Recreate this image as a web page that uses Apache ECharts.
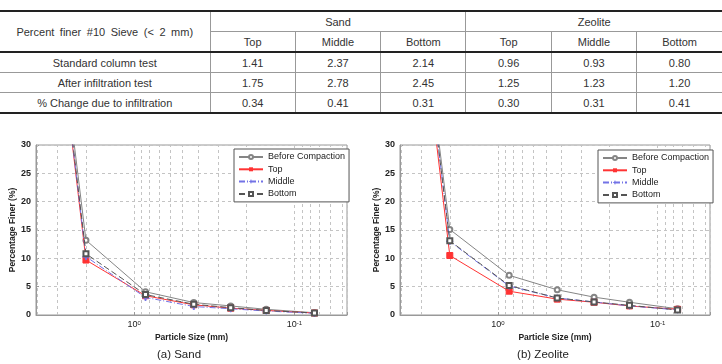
<!DOCTYPE html>
<html>
<head>
<meta charset="utf-8">
<script src="https://cdn.jsdelivr.net/npm/echarts@6/dist/echarts.min.js"></script>
<style>
body { margin: 0; background: #fff; }
#main { position: absolute; left: 0; top: 0; width: 722px; height: 364px; }
#tbl { position: absolute; left: 0; top: 10px; width: 722px; border-collapse: collapse; table-layout: fixed;
  font-family: "Liberation Sans", Arial, sans-serif; font-size: 11px; color: #333; background: #fff; }
#tbl td { height: 19px; padding: 0; text-align: center; border: 1px solid #999; white-space: nowrap; }
#tbl tr:first-child td { border-top: 2px solid #222; }
#tbl tr.last td { border-bottom: 2px solid #222; }
#tbl tr.head2 td { border-bottom: 2px solid #222; }
#tbl td.c0 { border-left: none; border-bottom: 2px solid #222; word-spacing: 2.5px; }
#tbl td.lastc { border-right: none; }
#tbl td.first { border-left: none; }
</style>
</head>
<body>
<div id="main"></div>
<table id="tbl"></table>
<script>
// table values (Sand Top/Middle/Bottom, Zeolite Top/Middle/Bottom)
var headerTitle = 'Percent finer #10 Sieve (< 2 mm)';
var groups = ['Sand', 'Zeolite'];
var positions = ['Top', 'Middle', 'Bottom'];
var rowNames = ['Standard column test', 'After infiltration test', '% Change due to infiltration'];
var standardTest = [1.41, 2.37, 2.14, 0.96, 0.93, 0.80];
var afterTest = [1.75, 2.78, 2.45, 1.25, 1.23, 1.20];
var changeTest = [0.34, 0.41, 0.31, 0.30, 0.31, 0.41];

// chart values
var sizes = [4.75, 2, 0.85, 0.425, 0.25, 0.15, 0.075];
var sandBefore = [100, 13.2, 4.1, 2.2, 1.6, 1.0, 0.4];
var sandTop = [100, 9.7, 3.4, 1.8, 1.2, 0.8, 0.35];
var sandMiddle = [100, 10.3, 3.1, 1.5, 1.1, 0.7, 0.3];
var sandBottom = [100, 10.8, 3.6, 1.9, 1.3, 0.8, 0.35];
var zeoBefore = [100, 15.1, 7.0, 4.45, 3.15, 2.25, 1.1];
var zeoTop = [100, 10.5, 4.2, 2.8, 2.25, 1.6, 1.0];
var zeoMiddle = [100, 13.0, 5.1, 3.0, 2.3, 1.6, 0.9];
var zeoBottom = [100, 13.1, 5.2, 3.0, 2.3, 1.7, 0.9];

var names = ['Before Compaction', 'Top', 'Middle', 'Bottom'];
var captions = ['(a) Sand', '(b) Zeolite'];

// build table
var tbl = document.getElementById('tbl');
var html = '<colgroup><col style="width:210px">';
for (var i = 0; i < 6; i++) html += '<col>';
html += '</colgroup>';
html += '<tr><td class="c0" rowspan="2">' + headerTitle.replace('<', '&lt;') + '</td>';
html += '<td colspan="3">' + groups[0] + '</td><td colspan="3" class="lastc">' + groups[1] + '</td></tr>';
html += '<tr class="head2">';
for (var g = 0; g < 2; g++) {
  positions.forEach(function (p, k) {
    html += '<td' + (g == 1 && k == 2 ? ' class="lastc"' : '') + '>' + p + '</td>';
  });
}
html += '</tr>';
[standardTest, afterTest, changeTest].forEach(function (row, r) {
  html += '<tr' + (r == 2 ? ' class="last"' : '') + '><td class="first">' + rowNames[r] + '</td>';
  row.forEach(function (v, k) {
    html += '<td' + (k == 5 ? ' class="lastc"' : '') + '>' + v.toFixed(2) + '</td>';
  });
  html += '</tr>';
});
tbl.innerHTML = html;

// log grid minor lines 2..9 x 10^k
var minorTicks = [];
[-2, -1, 0].forEach(function (k) {
  for (var m = 2; m <= 9; m++) {
    var v = m * Math.pow(10, k);
    if (v > 0.047 && v < 4.1) minorTicks.push(v);
  }
});

var font = '"Liberation Sans", Arial, sans-serif';
var styles = [
  { color: '#858585', symbol: 'emptyCircle', symbolSize: 5, type: 'solid' },
  { color: '#ff3333', symbol: 'rect', symbolSize: 6, type: 'solid' },
  { color: '#7373e6', symbol: 'path://M4,0H6V4H10V6H6V10H4V6H0V4H4Z', symbolSize: 6, type: [6, 2, 1, 2] },
  { color: '#555555', symbol: 'emptyRect', symbolSize: 5, type: [6, 3] }
];

function makeSeries(idx, values, g) {
  var st = styles[idx];
  var s = {
    name: names[idx],
    type: 'line',
    xAxisIndex: g,
    yAxisIndex: g,
    data: sizes.map(function (x, i) { return [x, values[i]]; }),
    symbol: st.symbol,
    symbolSize: st.symbolSize,
    clip: true,
    z: 3 + idx,
    itemStyle: { color: st.color, borderColor: st.color },
    lineStyle: { color: st.color, width: 1, type: st.type }
  };
  if (idx == 0) {
    s.markLine = {
      silent: true, symbol: 'none', z: 1, animation: false,
      label: { show: false },
      lineStyle: { color: '#c4c4c4', width: 1, type: [3, 3] },
      data: minorTicks.map(function (v) { return { xAxis: v }; })
    };
  }
  return s;
}

function xAxis(g) {
  return {
    type: 'log', logBase: 10, gridIndex: g, min: 0.047, max: 4.1, inverse: true,
    name: 'Particle Size (mm)', nameLocation: 'middle', nameGap: 18,
    nameTextStyle: { fontFamily: font, fontWeight: 'bold', fontSize: 8.5, color: '#222' },
    axisLine: { lineStyle: { color: '#999' } },
    axisTick: { inside: true, length: 3, lineStyle: { color: '#999' } },
    splitLine: { show: true, lineStyle: { color: '#c4c4c4', type: [3, 3] } },
    axisLabel: {
      margin: 5, fontFamily: font, color: '#222',
      formatter: function (v) {
        var e = Math.log10(v);
        if (Math.abs(e - Math.round(e)) > 1e-6) return '';
        return '{b|10}{e|' + Math.round(e) + '}';
      },
      rich: { b: { fontSize: 9, fontFamily: font, color: '#222' }, e: { fontSize: 6, fontFamily: font, color: '#222', verticalAlign: 'top' } }
    }
  };
}

function yAxis(g) {
  return {
    type: 'value', gridIndex: g, min: 0, max: 30, interval: 5,
    name: 'Percentage Finer (%)', nameLocation: 'middle', nameGap: 15,
    nameTextStyle: { fontFamily: font, fontWeight: 'bold', fontSize: 8.5, color: '#222' },
    axisLine: { show: true, lineStyle: { color: '#999' } },
    axisTick: { show: true, inside: true, length: 3, lineStyle: { color: '#999' } },
    splitLine: { show: true, lineStyle: { color: '#c4c4c4', type: [3, 3] } },
    axisLabel: { margin: 5, fontFamily: font, fontWeight: 'bold', fontSize: 9, color: '#222' }
  };
}

function legend(left, top) {
  return {
    orient: 'vertical', left: left, top: top, data: names,
    backgroundColor: '#fff', borderColor: '#555', borderWidth: 1, borderRadius: 0,
    padding: [3, 4, 3, 4], itemGap: 2.3, itemWidth: 24, itemHeight: 5,
    textStyle: { fontFamily: font, fontSize: 9, color: '#222', lineHeight: 10 }
  };
}

var chart = echarts.init(document.getElementById('main'));
var option = {
  animation: false,
  grid: [
    { left: 36, top: 145, width: 311, height: 170, show: true, borderColor: '#999', borderWidth: 1 },
    { left: 400, top: 145, width: 310, height: 170, show: true, borderColor: '#999', borderWidth: 1 }
  ],
  xAxis: [xAxis(0), xAxis(1)],
  yAxis: [yAxis(0), yAxis(1)],
  legend: [legend(234, 149), legend(598, 150)],
  graphic: [
    { type: 'text', x: 179, y: 355, style: { text: captions[0], align: 'center', verticalAlign: 'middle', fontFamily: font, fontSize: 11.5, fill: '#222' } },
    { type: 'text', x: 543, y: 355, style: { text: captions[1], align: 'center', verticalAlign: 'middle', fontFamily: font, fontSize: 11.5, fill: '#222' } }
  ],
  series: [
    makeSeries(0, sandBefore, 0), makeSeries(1, sandTop, 0), makeSeries(2, sandMiddle, 0), makeSeries(3, sandBottom, 0),
    makeSeries(0, zeoBefore, 1), makeSeries(1, zeoTop, 1), makeSeries(2, zeoMiddle, 1), makeSeries(3, zeoBottom, 1)
  ]
};
chart.setOption(option);
</script>
</body>
</html>
